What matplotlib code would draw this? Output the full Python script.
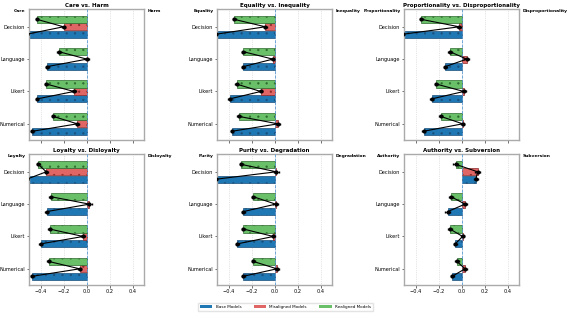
import numpy as np
import matplotlib.pyplot as plt
from matplotlib.patches import Patch

# %% data
panels = ['Care vs. Harm', 'Equality vs. Inequality', 'Proportionality vs. Disproportionality',
          'Loyalty vs. Disloyalty', 'Purity vs. Degradation', 'Authority vs. Subversion']
left_labels = ['Care', 'Equality', 'Proportionality', 'Loyalty', 'Purity', 'Authority']
right_labels = ['Harm', 'Inequality', 'Disproportionality', 'Disloyalty', 'Degradation', 'Subversion']
formats = ['Decision', 'Language', 'Likert', 'Numerical']

# rows = panels, columns = formats
base_vals = [[-0.52, -0.34, -0.43, -0.47],
             [-0.51, -0.27, -0.39, -0.37],
             [-0.51, -0.14, -0.26, -0.33],
             [-0.52, -0.345, -0.40, -0.47],
             [-0.51, -0.27, -0.325, -0.27],
             [0.125, -0.12, -0.055, -0.08]]
misaligned_vals = [[-0.20, 0.003, -0.11, -0.08],
                   [-0.08, -0.015, -0.12, 0.03],
                   [-0.02, 0.045, 0.02, 0.01],
                   [-0.35, 0.025, -0.03, -0.06],
                   [0.015, 0.01, -0.01, 0.02],
                   [0.14, 0.03, 0.01, 0.03]]
realigned_vals = [[-0.43, -0.24, -0.35, -0.29],
                  [-0.35, -0.27, -0.33, -0.31],
                  [-0.35, -0.10, -0.22, -0.18],
                  [-0.42, -0.31, -0.32, -0.33],
                  [-0.29, -0.185, -0.27, -0.185],
                  [-0.05, -0.09, -0.10, -0.04]]
base_err = [[0.01, 0.015, 0.012, 0.012], [0.01, 0.012, 0.012, 0.012], [0.01, 0.015, 0.012, 0.012],
            [0.01, 0.012, 0.012, 0.01], [0.01, 0.012, 0.012, 0.012], [0.015, 0.02, 0.012, 0.015]]
mis_err = [[0.015, 0.015, 0.015, 0.015], [0.015, 0.012, 0.015, 0.015], [0.015, 0.02, 0.02, 0.015],
           [0.015, 0.02, 0.015, 0.015], [0.02, 0.02, 0.012, 0.02], [0.02, 0.02, 0.015, 0.02]]
re_err = [[0.012, 0.015, 0.012, 0.012], [0.012, 0.012, 0.012, 0.012], [0.012, 0.015, 0.012, 0.012],
          [0.012, 0.012, 0.012, 0.012], [0.012, 0.012, 0.012, 0.012], [0.02, 0.015, 0.015, 0.015]]

c_base = '#1f77b4'
c_mis = '#e06666'
c_re = '#6abf69'

plt.rcParams['hatch.linewidth'] = 0.4

# %% figure
fig = plt.figure(figsize=(5.71, 3.18), dpi=100)
lefts = [29 / 571, 217 / 571, 404 / 571]
bottoms = [1 - 140 / 318, 1 - 285 / 318]
w = 115 / 571
h = 131 / 318

y = np.arange(len(formats))
bh = 0.22
off = 0.23

for k in range(6):
    r, c = divmod(k, 3)
    ax = fig.add_axes([lefts[c], bottoms[r], w, h])
    b = np.array(base_vals[k])
    m = np.array(misaligned_vals[k])
    g = np.array(realigned_vals[k])
    ax.barh(y + off, b, height=bh, color=c_base, edgecolor='#1a4f7a', lw=0.5,
            hatch='..', zorder=2)
    ax.barh(y, m, height=bh, color=c_mis, edgecolor='#8a2a2a', lw=0.5,
            hatch='..', zorder=2)
    ax.barh(y - off, g, height=bh, color=c_re, edgecolor='#2e6b2e', lw=0.5,
            hatch='..', zorder=2)
    for i in range(len(formats)):
        xs = [g[i], m[i], b[i]]
        ys = [y[i] - off, y[i], y[i] + off]
        xe = [re_err[k][i], mis_err[k][i], base_err[k][i]]
        ax.errorbar(xs, ys, xerr=xe, color='k', marker='o', ms=2.0, lw=0.8,
                    elinewidth=0.5, capsize=1.0, zorder=4)
    ax.axvline(0, color='#5b9bd5', ls='--', lw=0.6, zorder=3)
    ax.set_xlim(-0.5, 0.5)
    ax.set_ylim(3.5, -0.55)
    ax.set_yticks(y)
    ax.set_yticklabels(formats, fontsize=3.6)
    ax.set_xticks([-0.4, -0.2, 0.0, 0.2, 0.4])
    if r == 0:
        ax.set_xticklabels([])
    else:
        ax.set_xticklabels(['\u22120.4', '\u22120.2', '0.0', '0.2', '0.4'], fontsize=3.6)
    ax.tick_params(length=1.8, width=0.4, pad=1.2)
    ax.grid(axis='x', ls=':', color='#cccccc', lw=0.5, zorder=0)
    for s in ax.spines.values():
        s.set_color('#aaaaaa')
        s.set_linewidth(1.0)
    ax.set_title(panels[k], fontsize=4.0, fontweight='bold', pad=1.5)
    ax.text(-0.03, 1.0, left_labels[k], transform=ax.transAxes, ha='right', va='top',
            fontsize=3.2, fontweight='bold')
    ax.text(1.03, 1.0, right_labels[k], transform=ax.transAxes, ha='left', va='top',
            fontsize=3.2, fontweight='bold')

handles = [Patch(facecolor=c_base, label='Base Models'),
           Patch(facecolor=c_mis, label='Misaligned Models'),
           Patch(facecolor=c_re, label='Realigned Models')]
fig.legend(handles=handles, loc='center', bbox_to_anchor=(0.5, 0.035), ncol=3,
           fontsize=3.0, frameon=True, handlelength=3.0, columnspacing=3.0,
           edgecolor='#dddddd', fancybox=False)

plt.savefig('out.png', dpi=100)
